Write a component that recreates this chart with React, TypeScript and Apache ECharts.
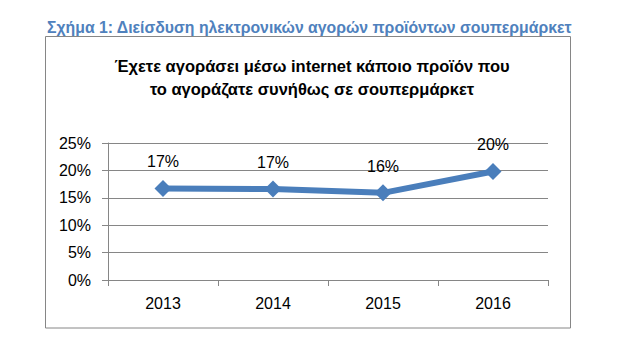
import React, { useEffect, useRef } from "react";
import * as echarts from "echarts";

const categories = ["2013", "2014", "2015", "2016"];
const values = [16.7, 16.6, 15.9, 19.8];
const yTicks = [0, 5, 10, 15, 20, 25];
const figureCaption = "Σχήμα 1: Διείσδυση ηλεκτρονικών αγορών προϊόντων σουπερμάρκετ";
const chartTitle = "Έχετε αγοράσει μέσω internet κάποιο προϊόν που\nτο αγοράζατε συνήθως σε σουπερμάρκετ";

const FONT = "'Liberation Sans', Arial, sans-serif";

export default function App() {
  const ref = useRef<HTMLDivElement>(null);
  useEffect(() => {
    if (!ref.current) return;
    const chart = echarts.init(ref.current, null, { renderer: "svg" });
    chart.setOption({
      animation: false,
      backgroundColor: "#ffffff",
      graphic: [
        {
          type: "text",
          x: 47,
          y: 27,
          style: {
            text: figureCaption,
            fill: "#4F81BD",
            font: "bold 15.8px " + FONT,
            verticalAlign: "middle",
            align: "left",
          },
        },
        {
          type: "rect",
          shape: { x: 45.5, y: 36.5, width: 525, height: 291.5 },
          style: { fill: "none", stroke: "#868686", lineWidth: 1 },
          z: -1,
        },
      ],
      title: {
        text: chartTitle,
        left: 307,
        textAlign: "center",
        top: 49,
        textStyle: {
          fontFamily: FONT,
          fontSize: 16.5,
          fontWeight: "bold",
          color: "#000",
          lineHeight: 23,
        },
      },
      grid: { left: 108, right: 88, top: 143, bottom: 75, containLabel: false },
      xAxis: {
        type: "category",
        data: categories,
        boundaryGap: true,
        axisLine: { show: true, lineStyle: { color: "#868686", width: 1 } },
        axisTick: { show: true, length: 6, lineStyle: { color: "#868686" } },
        axisLabel: {
          color: "#000",
          fontSize: 16,
          fontFamily: FONT,
          margin: 15,
        },
      },
      yAxis: {
        type: "value",
        min: 0,
        max: 25,
        interval: 5,
        axisLine: { show: true, lineStyle: { color: "#868686", width: 1 } },
        axisTick: { show: true, length: 6, inside: false, lineStyle: { color: "#868686" } },
        splitLine: { show: true, lineStyle: { color: "#868686", width: 1 } },
        axisLabel: {
          color: "#000",
          fontSize: 16,
          fontFamily: FONT,
          margin: 17,
          formatter: (v: number) => (yTicks.includes(v) ? v + "%" : ""),
        },
      },
      series: [
        {
          type: "line",
          data: values,
          lineStyle: { color: "#4A7EBB", width: 6 },
          itemStyle: { color: "#4A7EBB" },
          symbol: "diamond",
          symbolSize: 17,
          label: {
            show: true,
            position: "top",
            distance: 10,
            color: "#000",
            fontSize: 16,
            fontFamily: FONT,
            formatter: (p: any) => Math.round(p.value) + "%",
          },
        },
      ],
    });
    return () => chart.dispose();
  }, []);
  return (
    <div
      ref={ref}
      style={{ position: "absolute", left: 0, top: 0, width: 636, height: 355 }}
    />
  );
}
